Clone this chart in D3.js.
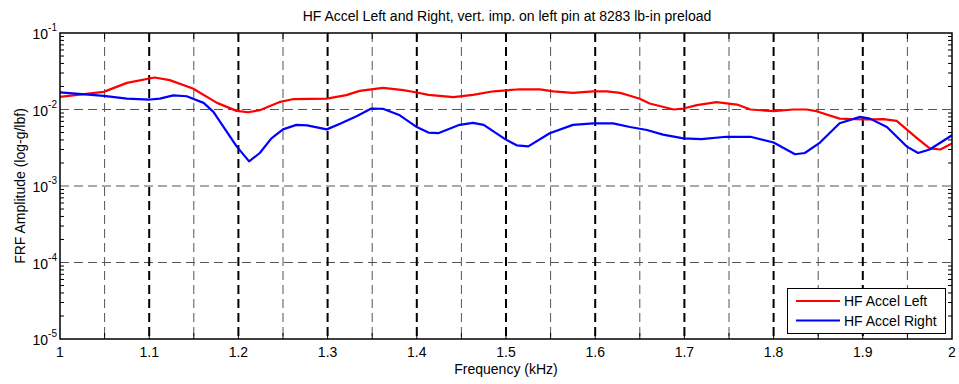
<!DOCTYPE html>
<html>
<head>
<meta charset="utf-8">
<script src="https://cdn.jsdelivr.net/npm/d3@7"></script>
<style>
  body { margin: 0; background: #fff; }
  text { font-family: Arial, "Liberation Sans", sans-serif; fill: #000; }
</style>
</head>
<body>
<svg width="959" height="384"></svg>
<script>
var title = "HF Accel Left and Right, vert. imp. on left pin at 8283 lb-in preload";
var xLabel = "Frequency (kHz)";
var yLabel = "FRF Amplitude (log-g/lbf)";
var seriesNames = ["HF Accel Left", "HF Accel Right"];
var xTicks = [1, 1.1, 1.2, 1.3, 1.4, 1.5, 1.6, 1.7, 1.8, 1.9, 2];
var yExps = [-1, -2, -3, -4, -5];

var leftFreq = [1.000, 1.049, 1.075, 1.106, 1.123, 1.149, 1.176, 1.198, 1.211, 1.224, 1.247, 1.262, 1.299, 1.321, 1.336, 1.362, 1.385, 1.400, 1.413, 1.441, 1.463, 1.486, 1.516, 1.538, 1.553, 1.575, 1.598, 1.613, 1.628, 1.639, 1.650, 1.661, 1.688, 1.699, 1.714, 1.736, 1.759, 1.774, 1.800, 1.822, 1.837, 1.848, 1.874, 1.901, 1.923, 1.938, 1.960, 1.975, 1.987, 2.000];
var leftAmp = [0.0146, 0.0170, 0.0223, 0.0262, 0.0242, 0.0188, 0.0122, 0.0096, 0.0092, 0.0098, 0.0126, 0.0137, 0.0139, 0.0154, 0.0175, 0.0192, 0.0179, 0.0167, 0.0155, 0.0145, 0.0155, 0.0173, 0.0184, 0.0183, 0.0173, 0.0165, 0.0173, 0.0173, 0.0165, 0.0151, 0.0138, 0.0120, 0.0100, 0.0103, 0.0114, 0.0125, 0.0116, 0.0100, 0.0095, 0.0100, 0.0100, 0.0095, 0.0076, 0.0074, 0.0075, 0.0071, 0.0043, 0.0031, 0.0030, 0.0036];

var rightFreq = [1.000, 1.049, 1.075, 1.101, 1.112, 1.127, 1.142, 1.161, 1.172, 1.198, 1.212, 1.224, 1.237, 1.250, 1.265, 1.277, 1.299, 1.314, 1.333, 1.349, 1.362, 1.381, 1.400, 1.413, 1.424, 1.448, 1.463, 1.475, 1.499, 1.512, 1.525, 1.549, 1.575, 1.598, 1.620, 1.639, 1.658, 1.676, 1.699, 1.719, 1.747, 1.774, 1.800, 1.824, 1.835, 1.852, 1.874, 1.897, 1.908, 1.927, 1.949, 1.962, 1.975, 2.000];
var rightAmp = [0.0167, 0.0151, 0.0139, 0.0135, 0.0139, 0.0153, 0.0149, 0.0122, 0.0093, 0.0033, 0.0021, 0.0027, 0.0042, 0.0055, 0.0063, 0.0062, 0.0055, 0.0065, 0.0082, 0.0103, 0.0102, 0.0084, 0.0059, 0.0050, 0.0049, 0.0063, 0.0067, 0.0063, 0.0041, 0.0034, 0.0033, 0.0049, 0.0063, 0.0066, 0.0066, 0.0059, 0.0054, 0.0047, 0.0042, 0.0041, 0.0044, 0.0044, 0.0037, 0.0026, 0.0027, 0.0037, 0.0066, 0.0080, 0.0076, 0.0059, 0.0033, 0.0027, 0.0030, 0.0046];

var svg = d3.select("svg");
var pL = 60, pT = 33, pR = 952, pB = 339;

var x = d3.scaleLinear().domain([1, 2]).range([pL, pR]);
var y = d3.scaleLog().domain([1e-5, 1e-1]).range([pB, pT]);

// horizontal grid at decades
var g = svg.append("g");
[1e-2, 1e-3, 1e-4].forEach(function(v) {
  g.append("line")
    .attr("x1", pL).attr("x2", pR)
    .attr("y1", y(v)).attr("y2", y(v))
    .attr("stroke", "#555").attr("stroke-width", 1)
    .attr("stroke-dasharray", "9,5");
});
// vertical grid every 0.05
d3.range(1.05, 2.0, 0.05).forEach(function(f, i) {
  var major = (i % 2 == 1);
  g.append("line")
    .attr("x1", x(f)).attr("x2", x(f))
    .attr("y1", pT).attr("y2", pB)
    .attr("stroke", major ? "#000" : "#555")
    .attr("stroke-width", major ? 2 : 1)
    .attr("stroke-dasharray", "9,5");
});

// minor log ticks on left and right
var minor = [];
[-5, -4, -3, -2].forEach(function(e) {
  for (var k = 2; k <= 9; k++) minor.push(k * Math.pow(10, e));
});
minor.forEach(function(v) {
  g.append("line").attr("x1", pL).attr("x2", pL + 4)
    .attr("y1", y(v)).attr("y2", y(v)).attr("stroke", "#000");
  g.append("line").attr("x1", pR).attr("x2", pR - 4)
    .attr("y1", y(v)).attr("y2", y(v)).attr("stroke", "#000");
});
// x ticks top and bottom every 0.05
d3.range(1.05, 2.0, 0.05).forEach(function(f) {
  g.append("line").attr("x1", x(f)).attr("x2", x(f))
    .attr("y1", pB).attr("y2", pB - 6).attr("stroke", "#000");
  g.append("line").attr("x1", x(f)).attr("x2", x(f))
    .attr("y1", pT).attr("y2", pT + 6).attr("stroke", "#000");
});

// lines
var line = d3.line()
  .x(function(d) { return x(d[0]); })
  .y(function(d) { return y(d[1]); });

svg.append("path")
  .datum(d3.zip(leftFreq, leftAmp))
  .attr("fill", "none").attr("stroke", "#ff0000").attr("stroke-width", 2.2)
  .attr("stroke-linejoin", "round")
  .attr("d", line);
svg.append("path")
  .datum(d3.zip(rightFreq, rightAmp))
  .attr("fill", "none").attr("stroke", "#0000ff").attr("stroke-width", 2.2)
  .attr("stroke-linejoin", "round")
  .attr("d", line);

// box
svg.append("rect")
  .attr("x", pL).attr("y", pT)
  .attr("width", pR - pL).attr("height", pB - pT)
  .attr("fill", "none").attr("stroke", "#000").attr("stroke-width", 1.5);

// x tick labels
xTicks.forEach(function(t) {
  svg.append("text")
    .attr("x", x(t)).attr("y", 357)
    .attr("text-anchor", "middle")
    .attr("font-size", 14)
    .text(t);
});

// y tick labels
yExps.forEach(function(e) {
  var t = svg.append("text")
    .attr("x", 57).attr("y", y(Math.pow(10, e)) + 6)
    .attr("text-anchor", "end")
    .attr("font-size", 14);
  t.append("tspan").text("10");
  t.append("tspan").attr("dy", -8).attr("font-size", 10).text(e);
});

svg.append("text")
  .attr("x", (pL + pR) / 2 + 1).attr("y", 21)
  .attr("text-anchor", "middle").attr("font-size", 14)
  .text(title);

svg.append("text")
  .attr("x", (pL + pR) / 2).attr("y", 374)
  .attr("text-anchor", "middle").attr("font-size", 14)
  .text(xLabel);

svg.append("text")
  .attr("transform", "translate(25," + ((pT + pB) / 2) + ") rotate(-90)")
  .attr("text-anchor", "middle").attr("font-size", 14)
  .text(yLabel);

// legend
var lg = svg.append("g");
lg.append("rect")
  .attr("x", 787.5).attr("y", 288.5).attr("width", 158).attr("height", 45)
  .attr("fill", "#fff").attr("stroke", "#000").attr("stroke-width", 1);
var colors = ["#ff0000", "#0000ff"];
seriesNames.forEach(function(n, i) {
  var ly = 301 + i * 19.5;
  lg.append("line").attr("x1", 796).attr("x2", 840)
    .attr("y1", ly).attr("y2", ly)
    .attr("stroke", colors[i]).attr("stroke-width", 2.2);
  lg.append("text").attr("x", 844).attr("y", ly + 5)
    .attr("font-size", 14).text(n);
});
</script>
</body>
</html>
